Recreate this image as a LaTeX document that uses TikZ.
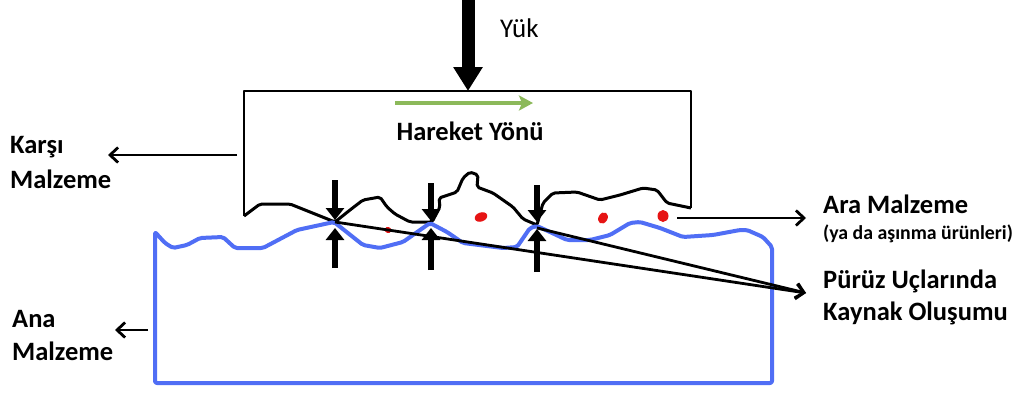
\documentclass[tikz,border=0pt]{standalone}
\usepackage{fontspec}
\setmainfont{Carlito}
\usetikzlibrary{arrows.meta}

\definecolor{baseblue}{RGB}{80,110,245}
\definecolor{motiongreen}{RGB}{140,185,90}
\definecolor{debrisred}{RGB}{230,20,20}

\tikzset{
  lbl/.style={font=\bfseries\fontsize{26.5}{30}\selectfont, anchor=base west, inner sep=0pt},
  sublbl/.style={font=\bfseries\fontsize{19.8}{23}\selectfont, anchor=base west, inner sep=0pt},
  counterbody/.style={line width=2pt, line join=round},
  roughtop/.style={line width=3pt, line join=round, rounded corners=2pt},
  basebody/.style={baseblue, line width=4pt, line join=round, rounded corners=2pt},
  contact/.style={line width=6.5pt, -{Triangle[length=12pt,width=18pt]}},
  pointer/.style={line width=2.8pt, -{Straight Barb[length=8pt,width=15pt,line width=2.8pt]}},
  debris/.style={fill=debrisred, draw=none}
}

\begin{document}
\begin{tikzpicture}[x=1pt,y=-1pt]
\useasboundingbox (0,0) rectangle (1020,394);

% counter body: box outline
\draw[counterbody] (244,216) -- (244,91) -- (691,91) -- (691,208);
% counter body: rough lower surface
\draw[roughtop] (244,216) -- (260,204) -- (290,204) -- (335,222) -- (350,210)
  -- (363,200) -- (380,197) -- (387,207) -- (395,214) -- (410,222) -- (432,222)
  -- (440,207) -- (439,198) -- (457,192) -- (463,178) -- (470,172) -- (478,175)
  -- (477,187) -- (493,193) -- (513,207) -- (523,219) -- (537,225) -- (543,203)
  -- (553,193) -- (577,192) -- (600,200) -- (620,195) -- (643,188) -- (657,190)
  -- (667,203) -- (691,208);

% base body with rough upper surface
\draw[basebody] (155,383) -- (155,232) -- (165,243) -- (173,248) -- (187,245)
  -- (200,238) -- (223,237) -- (235,248) -- (263,248) -- (297,230) -- (334,222)
  -- (363,245) -- (380,248) -- (403,242) -- (430,223) -- (447,232) -- (463,243)
  -- (503,248) -- (517,247) -- (530,228) -- (537,226) -- (550,232) -- (567,240)
  -- (590,240) -- (610,235) -- (630,223) -- (640,222) -- (660,228) -- (683,237)
  -- (713,235) -- (740,230) -- (747,230) -- (763,237) -- (772,247) -- (772,383)
  -- cycle;

% wear debris between the surfaces
\fill[debris, rotate around={-20:(388,230)}] (388,230) ellipse [x radius=3.5, y radius=3];
\fill[debris, rotate around={20:(481,217)}] (481,217) ellipse [x radius=6.5, y radius=4.5];
\fill[debris, rotate around={-30:(603,218)}] (603,218) ellipse [x radius=4.5, y radius=6];
\fill[debris] (663,216) ellipse [x radius=5.5, y radius=6];

% contact points
\coordinate (c1) at (335,222);
\coordinate (c2) at (431,223);
\coordinate (c3) at (537,226);
\coordinate (c1top) at (335,180);
\coordinate (c2top) at (431,183);
\coordinate (c3top) at (537,185);
\coordinate (c1bot) at (335,268);
\coordinate (c2bot) at (431,270);
\coordinate (c3bot) at (537,272);
\coordinate (c1dn) at (335,220);
\coordinate (c2dn) at (431,221);
\coordinate (c3dn) at (537,222);
\coordinate (c1up) at (335,228);
\coordinate (c2up) at (431,228);
\coordinate (c3up) at (537,229);

\foreach \i in {1,2,3}{
  \draw[contact] (c\i top) -- (c\i dn);
  \draw[contact] (c\i bot) -- (c\i up);
}

% load
\coordinate (loadtop) at (468,0);
\coordinate (loadtip) at (468,91);
\draw[line width=13pt, -{Triangle[length=24pt,width=28pt]}] (loadtop) -- (loadtip);
\node[font=\fontsize{27}{32}\selectfont, anchor=base west, inner sep=0pt] (yuk) at (500,37) {Yük};

% direction of motion
\coordinate (motA) at (395,103);
\coordinate (motB) at (533,103);
\draw[motiongreen, line width=4pt, -{Stealth[length=14pt,width=15pt,inset=3pt]}] (motA) -- (motB);
\node[lbl, anchor=base] (hareket) at (470,140) {Hareket Yönü};

% labels
\node[lbl] (karsi1) at (10,153) {Karşı};
\node[lbl] (karsi2) at (10,188) {Malzeme};
\node[lbl] (ana1) at (12,327) {Ana};
\node[lbl] (ana2) at (12,360) {Malzeme};
\node[lbl] (ara1) at (823,213) {Ara Malzeme};
\node[sublbl] (ara2) at (823,239) {(ya da aşınma ürünleri)};
\node[lbl] (puruz1) at (823,288) {Pürüz Uçlarında};
\node[lbl] (puruz2) at (823,320) {Kaynak Oluşumu};

% pointers
\coordinate (karsiA) at (237,155);
\coordinate (karsiB) at (108,155);
\coordinate (anaA) at (148,330);
\coordinate (anaB) at (115,330);
\coordinate (araA) at (677,218);
\coordinate (araB) at (806,218);
\coordinate (weldtip) at (806,293);
\coordinate (c3w) at (537,228);

\draw[pointer] (karsiA) -- (karsiB);
\draw[pointer] (anaA) -- (anaB);
\draw[pointer] (araA) -- (araB);
\draw[pointer] (c1) -- (weldtip);
\draw[pointer] (c3w) -- (weldtip);
\end{tikzpicture}
\end{document}
